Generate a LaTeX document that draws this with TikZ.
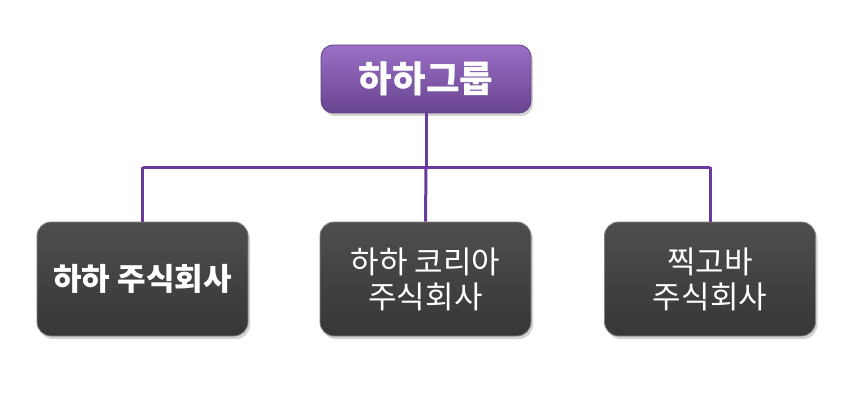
\documentclass[tikz,border=0pt]{standalone}
\usepackage{fontspec}
\setmainfont{Noto Sans CJK KR}
\usetikzlibrary{shadows}
\definecolor{grouppurple}{HTML}{7B50AA}
\definecolor{grouptop}{HTML}{9A70C6}
\definecolor{linepurple}{HTML}{6B3A9E}
\definecolor{boxgray}{HTML}{404040}
\definecolor{boxtop}{HTML}{4E4E4E}
\begin{document}
\begin{tikzpicture}[x = 1pt, y = -1pt, line width = 3pt,
		group/.style = {rectangle, rounded corners = 12pt, draw = grouppurple!80!black, line width = 0.8pt,
			top color = grouptop, bottom color = grouppurple!85!black, text = white,
			minimum width = 210pt, minimum height = 68pt, font = \fontsize{36.5}{40}\selectfont\bfseries,
			drop shadow = {opacity = 0.35, shadow xshift = 2pt, shadow yshift = -3pt}},
		company/.style = {rectangle, rounded corners = 14pt, draw = boxtop!70!white, line width = 0.8pt,
			top color = boxtop, bottom color = boxgray!85!black, text = white, align = center,
			minimum width = 211pt, minimum height = 114pt, font = \fontsize{31}{35}\selectfont,
			drop shadow = {opacity = 0.35, shadow xshift = 2pt, shadow yshift = -3pt}}]
		
		\useasboundingbox (0,0) rectangle (853,401);
		
		\node [group] (G) at (426,79) {하하그룹};
		\node [company] (A) at (142.5,279) {\bfseries 하하 주식회사};
		\node [company] (B) at (425.5,279) {하하 코리아\\주식회사};
		\node [company] (C) at (710,279) {찍고바\\주식회사};
		
		\coordinate (J) at (426,167);
		\coordinate (JA) at (142.5,167);
		\coordinate (JC) at (710,167);
		
		\draw [linepurple] (G.south) -- (J);
		\draw [linepurple] (JA) -- (JC);
		\draw [linepurple] (JA) -- (A.north);
		\draw [linepurple] (J) -- (B.north);
		\draw [linepurple] (JC) -- (C.north);
		
		\end{tikzpicture}
\end{document}
